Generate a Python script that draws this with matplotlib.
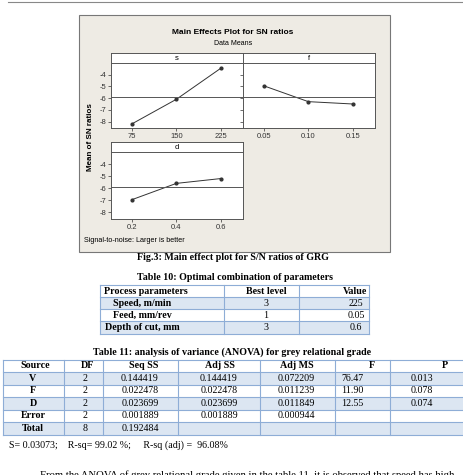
import numpy as np
import matplotlib
matplotlib.use('Agg')
import matplotlib.pyplot as plt
from matplotlib.patches import Rectangle

plt.rcParams['axes.unicode_minus'] = False

# Datos del grafico de efectos principales (medias de S/N)
s_levels = ['75', '150', '225']
s_sn = [-8.2, -6.1, -3.45]
f_levels = ['0.05', '0.10', '0.15']
f_sn = [-4.95, -6.3, -6.5]
d_levels = ['0.2', '0.4', '0.6']
d_sn = [-6.95, -5.6, -5.2]
grand_mean = np.mean(s_sn)
y_ticks = [-8, -7, -6, -5, -4]

# Tabla 10
t10_header = ['Process parameters', 'Best level', 'Value']
t10_params = ['Speed, m/min', 'Feed, mm/rev', 'Depth of cut, mm']
t10_level = ['3', '1', '3']
t10_value = ['225', '0.05', '0.6']

# Tabla 11 (ANOVA)
t11_header = ['Source', 'DF', 'Seq SS', 'Adj SS', 'Adj MS', 'F', 'P']
t11_source = ['V', 'F', 'D', 'Error', 'Total']
t11_df = ['2', '2', '2', '2', '8']
t11_seq = ['0.144419', '0.022478', '0.023699', '0.001889', '0.192484']
t11_adjss = ['0.144419', '0.022478', '0.023699', '0.001889', '']
t11_adjms = ['0.072209', '0.011239', '0.011849', '0.000944', '']
t11_f = ['76.47', '11.90', '12.55', '', '']
t11_p = ['0.013', '0.078', '0.074', '', '']

W, H = 464, 475
fig = plt.figure(figsize=(W / 100, H / 100), dpi=100)
fig.patch.set_facecolor('white')

# capa de fondo en pixeles
bg = fig.add_axes([0, 0, 1, 1])
bg.set_xlim(0, W)
bg.set_ylim(H, 0)
bg.axis('off')

serif = 'Liberation Serif'
mfont = 'Liberation Sans'
line_c = '#8EADD6'
shade = '#DCE6F2'
tsize = 7.2

bg.plot([8, 464], [2, 2], color='#888888', lw=0.8)

# marco de Minitab
bg.add_patch(Rectangle((79, 15), 311, 237, facecolor='#EEEBE4', edgecolor='#777777', lw=0.8))
bg.text(233, 33, 'Main Effects Plot for SN ratios', ha='center', va='center',
        fontsize=6.0, fontweight='bold', family=mfont)
bg.text(233, 43.5, 'Data Means', ha='center', va='center', fontsize=5, family=mfont)
bg.text(91, 137, 'Mean of SN ratios', ha='center', va='center', rotation=90,
        fontsize=5.8, fontweight='bold', family=mfont)
bg.text(84, 240, 'Signal-to-noise: Larger is better', ha='left', va='center',
        fontsize=5.2, family=mfont)


def panel(x0, x1, y0, y1, name, levels, vals, show_y):
    # tira de titulo
    hd = fig.add_axes([x0 / W, 1 - (y0 + 10) / H, (x1 - x0) / W, 10 / H])
    hd.set_xticks([])
    hd.set_yticks([])
    hd.text(0.5, 0.5, name, ha='center', va='center', fontsize=5.5, family=mfont,
            transform=hd.transAxes)
    for sp in hd.spines.values():
        sp.set_color('#555555')
        sp.set_linewidth(0.7)
    ax = fig.add_axes([x0 / W, 1 - y1 / H, (x1 - x0) / W, (y1 - y0 - 10) / H])
    xs = np.arange(len(levels))
    ax.plot(xs, vals, color='#333333', lw=0.7, marker='o', markersize=2)
    ax.axhline(grand_mean, color='#555555', lw=0.7)
    ax.set_xlim(-0.47, 2.5)
    ax.set_ylim(-8.55, -3.0)
    ax.set_xticks(xs)
    ax.set_xticklabels(levels)
    ax.set_yticks(y_ticks)
    if not show_y:
        ax.set_yticklabels([])
        ax.tick_params(axis='y', length=0)
    ax.tick_params(labelsize=5.5, length=2, width=0.5, pad=1.5, colors='#333333')
    for lab in ax.get_xticklabels() + ax.get_yticklabels():
        lab.set_family(mfont)
    for sp in ax.spines.values():
        sp.set_color('#555555')
        sp.set_linewidth(0.7)
    return ax


panel(111, 243, 53, 128, 's', s_levels, s_sn, True)
panel(243, 375, 53, 128, 'f', f_levels, f_sn, False)
panel(111, 243, 142, 219, 'd', d_levels, d_sn, True)

bg.text(233, 257, 'Fig.3: Main effect plot for S/N ratios of GRG', ha='center', va='center',
        fontsize=7.2, fontweight='bold', family=serif)

# Tabla 10
bg.text(235, 278, 'Table 10: Optimal combination of parameters', ha='center', va='center',
        fontsize=7.2, fontweight='bold', family=serif)
t10_cols = [100, 224, 299, 369]
t10_rows = [285, 297, 309, 321, 334]
for i in range(1, 4):
    if i % 2 == 1:
        bg.add_patch(Rectangle((t10_cols[0], t10_rows[i]), t10_cols[-1] - t10_cols[0],
                               t10_rows[i + 1] - t10_rows[i], facecolor=shade, edgecolor='none'))
for y in t10_rows:
    bg.plot([t10_cols[0], t10_cols[-1]], [y, y], color=line_c, lw=0.8)
for x in t10_cols:
    bg.plot([x, x], [t10_rows[0], t10_rows[-1]], color=line_c, lw=0.8)
hx10 = [146, 266, 355]
vx10 = [142, 266, 356]
for j, txt in enumerate(t10_header):
    bg.text(hx10[j], (t10_rows[0] + t10_rows[1]) / 2, txt, ha='center', va='center',
            fontsize=tsize, fontweight='bold', family=serif)
for i in range(3):
    yc = (t10_rows[i + 1] + t10_rows[i + 2]) / 2
    bg.text(vx10[0], yc, t10_params[i], ha='center', va='center', fontsize=tsize,
            fontweight='bold', family=serif)
    bg.text(vx10[1], yc, t10_level[i], ha='center', va='center', fontsize=tsize, family=serif)
    bg.text(vx10[2], yc, t10_value[i], ha='center', va='center', fontsize=tsize, family=serif)

# Tabla 11
bg.text(232, 352, 'Table 11: analysis of variance (ANOVA) for grey relational grade',
        ha='center', va='center', fontsize=7.2, fontweight='bold', family=serif)
t11_cols = [3, 64, 103, 178, 260, 335, 390, 464]
t11_rows = [360, 372, 384.5, 397, 409.5, 422, 434.5]
for i in range(1, 6):
    if i % 2 == 1:
        bg.add_patch(Rectangle((t11_cols[0], t11_rows[i]), t11_cols[-1] - t11_cols[0],
                               t11_rows[i + 1] - t11_rows[i], facecolor=shade, edgecolor='none'))
for y in t11_rows:
    bg.plot([t11_cols[0], t11_cols[-1]], [y, y], color=line_c, lw=0.8)
for x in t11_cols:
    bg.plot([x, x], [t11_rows[0], t11_rows[-1]], color=line_c, lw=0.8)
hx11 = [35, 88, 144, 220, 297, 372, 445]
vx11 = [33, 85, 140, 219, 296, 352, 422]
for j, txt in enumerate(t11_header):
    bg.text(hx11[j], (t11_rows[0] + t11_rows[1]) / 2, txt, ha='center', va='center',
            fontsize=tsize, fontweight='bold', family=serif)
cols11 = [t11_source, t11_df, t11_seq, t11_adjss, t11_adjms, t11_f, t11_p]
for i in range(5):
    yc = (t11_rows[i + 1] + t11_rows[i + 2]) / 2
    for j, col in enumerate(cols11):
        bg.text(vx11[j], yc, col[i], ha='center', va='center', fontsize=tsize,
                fontweight='bold' if j == 0 else 'normal', family=serif)

bg.text(9, 445, 'S= 0.03073;    R-sq= 99.02 %;     R-sq (adj) =  96.08%', ha='left',
        va='center', fontsize=7.2, family=serif)
bg.text(40, 475, 'From the ANOVA of grey relational grade given in the table 11, it is observed that speed has high',
        ha='left', va='center', fontsize=7.7, family=serif)

fig.savefig('out.png', dpi=100, facecolor='white')
